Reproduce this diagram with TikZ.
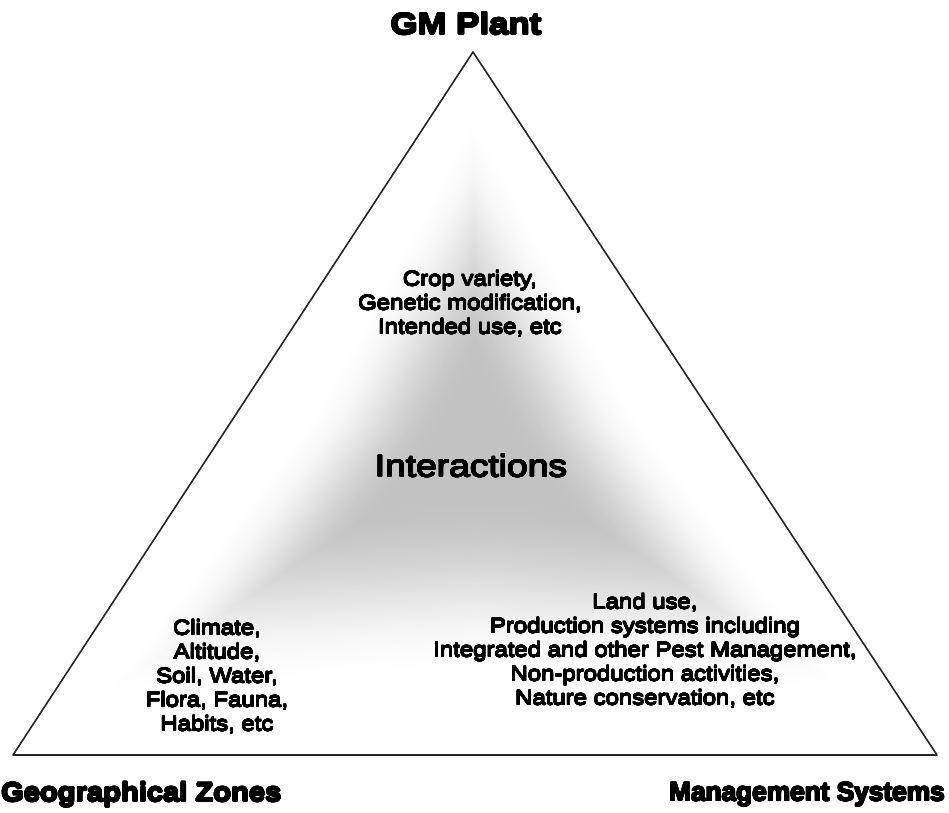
\documentclass[tikz,border=0pt]{standalone}
\usepackage{fontspec}
\usepackage{contour}
\contournumber{20}
\setmainfont{Liberation Sans}
\newfontfamily\innerfont[FakeStretch=1.14]{Liberation Sans}
\newfontfamily\bigfont[FakeStretch=1.2]{Liberation Sans}
\newfontfamily\gmfont[FakeStretch=1.16]{Liberation Sans}
\newfontfamily\geofont[FakeStretch=1.1]{Liberation Sans}
\newfontfamily\manfont[FakeStretch=0.99]{Liberation Sans}
\newcommand\thintxt[1]{\contourlength{0.35pt}\contour{black}{#1}}
\newcommand\midtxt[1]{\contourlength{0.55pt}\contour{black}{#1}}
\newcommand\thicktxt[1]{\contourlength{0.7pt}\contour{black}{#1}}
\tikzset{
  corner/.style={inner sep=0pt},
  body/.style={font=\innerfont\fontsize{21}{24}\selectfont, align=center, inner sep=0pt},
  big/.style={font=\bigfont\fontsize{31}{34}\selectfont, inner sep=0pt},
  edge/.style={line width=1.6pt, line join=round, draw=black!85}
}
\begin{document}
\begin{tikzpicture}[x=1pt,y=1pt]
\useasboundingbox (0,0) rectangle (949,-812);
\coordinate (O) at (475,-445);
\coordinate (A) at (473,-52);
\coordinate (B) at (13,-755);
\coordinate (C) at (937,-755);
% soft three-armed gradient: nested slightly concave hexagons about O
\foreach \k in {1,...,90}{
  \pgfmathsetmacro\t{1-\k/90}
  \pgfmathsetmacro\a{0.86*\t}
  \pgfmathsetmacro\ab{0.82*\t}
  \pgfmathsetmacro\b{0.72*\t}
  \pgfmathsetmacro\bb{0.74*\t}
  \pgfmathsetmacro\u{min(1,(1-\t)/0.78)}
  \pgfmathsetmacro\c{24*(1-cos(180*\u))/2}
  \fill[black!\c, shift={(O)}]
    ({\a*(-2)},{\a*393}) -- ({\b*230},{\b*41.5}) -- ({\ab*462},{\ab*(-310)})
    -- (0,{\bb*(-310)}) -- ({\ab*(-462)},{\ab*(-310)}) -- ({\b*(-232)},{\b*41.5}) -- cycle;
}
\draw[edge] (A) -- (B) -- (C) -- cycle;
\node[corner, font=\gmfont\bfseries\fontsize{30}{33}\selectfont] (gm) at (466,-24) {\thicktxt{GM Plant}};
\node[corner, font=\geofont\bfseries\fontsize{26.5}{30}\selectfont, anchor=west] (geo) at (1,-795) {\thicktxt{Geographical Zones}};
\node[corner, font=\manfont\bfseries\fontsize{26.5}{30}\selectfont, anchor=east] (man) at (945,-795) {\thicktxt{Management Systems}};
\node[body] (top) at (470,-304) {\thintxt{Crop variety,}\\\thintxt{Genetic modification,}\\\thintxt{Intended use, etc}};
\node[big] (int) at (471,-466) {\midtxt{Interactions}};
\node[body] (left) at (217,-677) {\thintxt{Climate,}\\\thintxt{Altitude,}\\\thintxt{Soil, Water,}\\\thintxt{Flora, Fauna,}\\\thintxt{Habits, etc}};
\node[body] (right) at (645,-651) {\thintxt{Land use,}\\\thintxt{Production systems including}\\\thintxt{Integrated and other Pest Management,}\\\thintxt{Non-production activities,}\\\thintxt{Nature conservation, etc}};
\end{tikzpicture}
\end{document}
